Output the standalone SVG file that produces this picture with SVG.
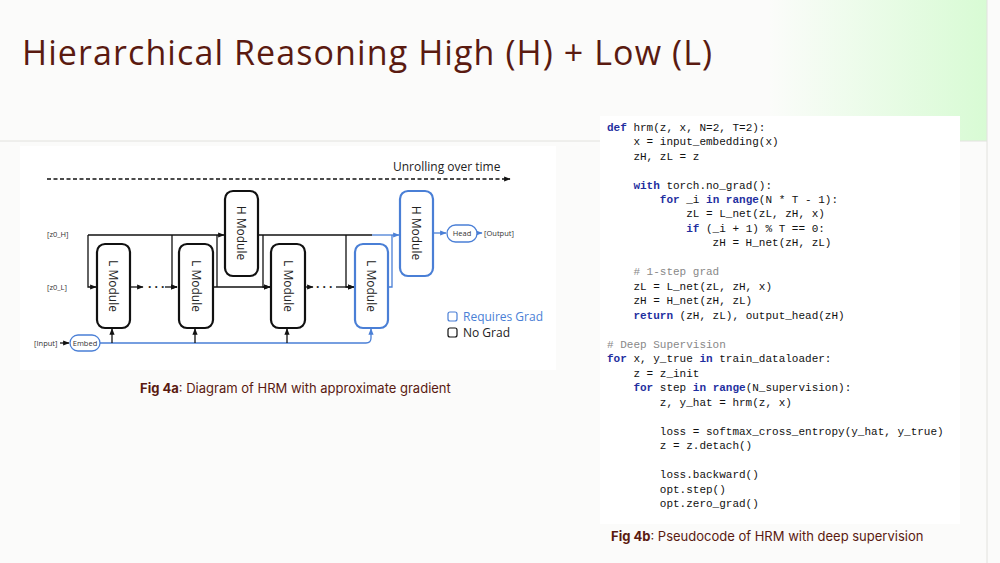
<svg xmlns="http://www.w3.org/2000/svg" width="1000" height="563" viewBox="0 0 1000 563">
<defs>
<linearGradient id="g" x1="0" x2="1" y1="0" y2="0"><stop offset="0" stop-color="#fbfcfa"/><stop offset="1" stop-color="#d8fbd4"/></linearGradient>
<marker id="ak" viewBox="0 0 10 10" refX="9" refY="5" markerWidth="5" markerHeight="5" orient="auto"><path d="M0,1 L10,5 L0,9 z" fill="#111"/></marker>
<marker id="ab" viewBox="0 0 10 10" refX="9" refY="5" markerWidth="5" markerHeight="5" orient="auto"><path d="M0,1 L10,5 L0,9 z" fill="#4a7fd6"/></marker>
</defs>
<style>
.k{stroke:#111;stroke-width:1.3;fill:none}
.b{stroke:#4a7fd6;stroke-width:1.3;fill:none}
.mk{fill:#fff;stroke:#111;stroke-width:2.2}
.mb{fill:#fff;stroke:#4a7fd6;stroke-width:2.2}
.mt{font-family:"Open Sans",sans-serif;font-size:12px;fill:#222}
.sm{font-family:"Open Sans",sans-serif;font-size:7.5px;fill:#333}
.code{font-family:"Liberation Mono",monospace;font-size:11px;fill:#111;white-space:pre}
.kw{fill:#1f2fa0;font-weight:bold}
.cm{fill:#888}
.cap{font-family:"Inter",sans-serif;font-size:13px;fill:#5a1a10}
</style>
<rect width="1000" height="563" fill="#fbfbfa"/>
<rect x="770" y="0" width="217" height="141" fill="url(#g)"/>
<line x1="0" y1="141" x2="987" y2="141" stroke="#e2e2de"/>
<line x1="987" y1="0" x2="987" y2="563" stroke="#e2e2de"/>
<text x="22" y="65" font-family="Open Sans, sans-serif" font-size="34" fill="#5a1a10" textLength="690">Hierarchical Reasoning High (H) + Low (L)</text>
<rect x="20" y="146" width="536" height="224" fill="#fff"/>
<rect x="600" y="116" width="360" height="408" fill="#fff"/>
<g id="connectors">
<line x1="47" y1="179" x2="510" y2="179" class="k" stroke-dasharray="4,2.5" marker-end="url(#ak)"/>
<path d="M88,235 H224" class="k" marker-end="url(#ak)"/>
<path d="M88,235 V287 H96" class="k" marker-end="url(#ak)"/>
<path d="M172,235 V287 H177" class="k" marker-end="url(#ak)"/>
<path d="M130,287 H143" class="k" marker-end="url(#ak)"/>
<path d="M165,287 H177" class="k" marker-end="url(#ak)"/>
<path d="M213,287 H270" class="k" marker-end="url(#ak)"/>
<path d="M217,287 V235" class="k"/>
<path d="M258,235 H372" class="k"/>
<path d="M263,235 V287 H270" class="k" marker-end="url(#ak)"/>
<path d="M346,235 V287 H354" class="k" marker-end="url(#ak)"/>
<path d="M305,287 H313" class="k" marker-end="url(#ak)"/>
<path d="M336,287 H354" class="k" marker-end="url(#ak)"/>
<path d="M372,235 H399" class="b" marker-end="url(#ab)"/>
<path d="M388,287 H392 V235" class="b"/>
<path d="M433,233 H446" class="b" marker-end="url(#ab)"/>
<path d="M477,233 H482" class="b" marker-end="url(#ab)"/>
<path d="M60,343 H69" class="k" marker-end="url(#ak)"/>
<path d="M100,343 H366 Q371,343 371,338 V329" class="b" marker-end="url(#ab)"/>
<path d="M112,343 V329" class="k" marker-end="url(#ak)"/>
<path d="M195,343 V329" class="k" marker-end="url(#ak)"/>
<path d="M287,343 V329" class="k" marker-end="url(#ak)"/>
</g>
<text x="393" y="171" class="mt">Unrolling over time</text>
<text x="47" y="237" class="sm">[z0_H]</text>
<text x="47" y="290" class="sm">[z0_L]</text>
<text x="34" y="346" class="sm">[Input]</text>
<text x="148" y="291" class="mt" font-size="14" font-weight="bold">· · ·</text>
<text x="316" y="291" class="mt" font-size="14" font-weight="bold">· · ·</text>
<g id="L1"><rect x="97" y="244" width="33" height="84" rx="8" class="mk"/><text transform="translate(109,286) rotate(90)" text-anchor="middle" class="mt">L Module</text></g>
<g id="L2"><rect x="179" y="244" width="34" height="84" rx="8" class="mk"/><text transform="translate(192,286) rotate(90)" text-anchor="middle" class="mt">L Module</text></g>
<g id="H1"><rect x="225" y="191" width="33" height="85" rx="8" class="mk"/><text transform="translate(237,233) rotate(90)" text-anchor="middle" class="mt">H Module</text></g>
<g id="L3"><rect x="271" y="244" width="34" height="84" rx="8" class="mk"/><text transform="translate(284,286) rotate(90)" text-anchor="middle" class="mt">L Module</text></g>
<g id="L4"><rect x="355" y="244" width="33" height="84" rx="8" class="mb"/><text transform="translate(367,286) rotate(90)" text-anchor="middle" class="mt">L Module</text></g>
<g id="H2"><rect x="400" y="191" width="33" height="85" rx="8" class="mb"/><text transform="translate(412,233) rotate(90)" text-anchor="middle" class="mt">H Module</text></g>
<g id="Head"><rect x="447" y="225" width="30" height="17" rx="8.5" fill="#fff" stroke="#4a7fd6" stroke-width="1.3"/><text x="462" y="236" text-anchor="middle" class="sm">Head</text></g>
<text x="484" y="236" class="sm">[Output]</text>
<g id="Embed"><rect x="70" y="335" width="30" height="16" rx="8" fill="#fff" stroke="#4a7fd6" stroke-width="1.3"/><text x="85" y="346" text-anchor="middle" class="sm">Embed</text></g>
<g id="legend">
<rect x="448" y="312" width="9" height="9" rx="2" fill="none" stroke="#4a7fd6" stroke-width="1.2"/>
<text x="463" y="321" class="mt" style="fill:#4a7fd6">Requires Grad</text>
<rect x="448" y="328" width="9" height="9" rx="2" fill="none" stroke="#111" stroke-width="1.2"/>
<text x="463" y="337" class="mt">No Grad</text>
</g>
<text x="140" y="393" class="cap"><tspan font-weight="bold">Fig 4a</tspan>: Diagram of HRM with approximate gradient</text>
<text x="611" y="541" class="cap" font-size="14"><tspan font-weight="bold">Fig 4b</tspan>: Pseudocode of HRM with deep supervision</text>
<g class="code">
<text x="607" y="131" class="code"><tspan class="kw">def</tspan> hrm(z, x, N=2, T=2):</text>
<text x="607" y="145" class="code">    x = input_embedding(x)</text>
<text x="607" y="160" class="code">    zH, zL = z</text>
<text x="607" y="189" class="code">    <tspan class="kw">with</tspan> torch.no_grad():</text>
<text x="607" y="203" class="code">        <tspan class="kw">for</tspan> _i <tspan class="kw">in</tspan> <tspan class="kw">range</tspan>(N * T - 1):</text>
<text x="607" y="217" class="code">            zL = L_net(zL, zH, x)</text>
<text x="607" y="232" class="code">            <tspan class="kw">if</tspan> (_i + 1) % T == 0:</text>
<text x="607" y="246" class="code">                zH = H_net(zH, zL)</text>
<text x="607" y="275" class="code">    <tspan class="cm"># 1-step grad</tspan></text>
<text x="607" y="290" class="code">    zL = L_net(zL, zH, x)</text>
<text x="607" y="304" class="code">    zH = H_net(zH, zL)</text>
<text x="607" y="319" class="code">    <tspan class="kw">return</tspan> (zH, zL), output_head(zH)</text>
<text x="607" y="348" class="code"><tspan class="cm"># Deep Supervision</tspan></text>
<text x="607" y="362" class="code"><tspan class="kw">for</tspan> x, y_true <tspan class="kw">in</tspan> train_dataloader:</text>
<text x="607" y="377" class="code">    z = z_init</text>
<text x="607" y="391" class="code">    <tspan class="kw">for</tspan> step <tspan class="kw">in</tspan> <tspan class="kw">range</tspan>(N_supervision):</text>
<text x="607" y="406" class="code">        z, y_hat = hrm(z, x)</text>
<text x="607" y="435" class="code">        loss = softmax_cross_entropy(y_hat, y_true)</text>
<text x="607" y="449" class="code">        z = z.detach()</text>
<text x="607" y="478" class="code">        loss.backward()</text>
<text x="607" y="493" class="code">        opt.step()</text>
<text x="607" y="507" class="code">        opt.zero_grad()</text>
</g>
</svg>
